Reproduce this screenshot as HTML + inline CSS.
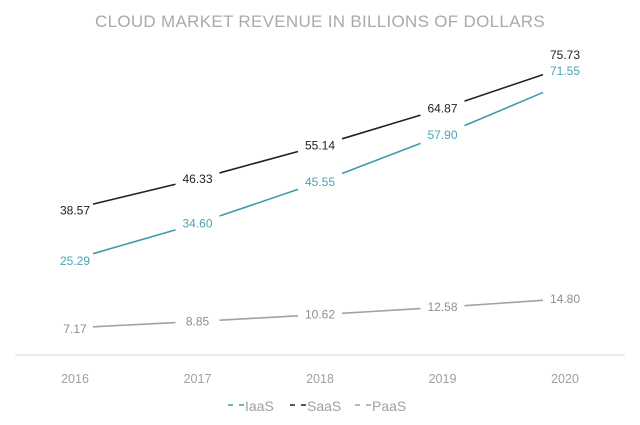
<!DOCTYPE html>
<html><head><meta charset="utf-8"><style>
html,body{margin:0;padding:0;background:#fff;width:640px;height:425px;overflow:hidden}
text{font-family:"Liberation Sans",sans-serif}
</style></head><body>
<svg id="chart" width="640" height="425" viewBox="0 0 640 425" xmlns="http://www.w3.org/2000/svg">
<text x="320" y="27" text-anchor="middle" font-size="17" fill="#aaa" letter-spacing="0.3">CLOUD MARKET REVENUE IN BILLIONS OF DOLLARS</text>
<line x1="15" y1="355" x2="625" y2="355" stroke="#e6e6e6" stroke-width="1.5"/>
<g id="xaxis"></g>
<g id="series"></g>
<g id="legend"></g>
</svg>
<script>
const years = ["2016","2017","2018","2019","2020"];
const saas = [38.57, 46.33, 55.14, 64.87, 75.73];
const iaas = [25.29, 34.60, 45.55, 57.90, 71.55];
const paas = [7.17, 8.85, 10.62, 12.58, 14.80];
const seriesNames = ["IaaS","SaaS","PaaS"];
const NS = "http://www.w3.org/2000/svg";
function xPos(i){ return 75 + i * 122.5; }
function yPos(v){ return 355 - v * 3.8; }
const xaxis = document.getElementById('xaxis');
years.forEach((y,i)=>{
  const t=document.createElementNS(NS,'text');
  
  
  t.setAttribute('x',xPos(i)); t.setAttribute('y',383);
  t.setAttribute('text-anchor','middle'); t.setAttribute('font-size','12.5'); t.setAttribute('fill','#a0a0a0');
  t.textContent=y; xaxis.appendChild(t);
});
const defs=[{name:'saas',data:saas,line:'#222',txt:'#222'},{name:'iaas',data:iaas,line:'#3f9cac',txt:'#4aa3b5'},{name:'paas',data:paas,line:'#a79dab',txt:'#8e8e8e'}];
const sg=document.getElementById('series');
defs.forEach(d=>{
  const pts=d.data.map((v,i)=>[xPos(i),yPos(v)]);
  for(let i=0;i<pts.length-1;i++){
    const [x1,y1]=pts[i],[x2,y2]=pts[i+1];
    const l=document.createElementNS(NS,'line');
    
    
    const f1=(i==0?18:22)/122.5, f2=22/122.5;
    l.setAttribute('x1',x1+(x2-x1)*f1); l.setAttribute('y1',y1+(y2-y1)*f1);
    l.setAttribute('x2',x2-(x2-x1)*f2); l.setAttribute('y2',y2-(y2-y1)*f2);
    l.setAttribute('stroke',d.line); l.setAttribute('stroke-width','1.6');
    sg.appendChild(l);
  }
  d.data.forEach((v,i)=>{
    const t=document.createElementNS(NS,'text');
    
    
    const last=i==d.data.length-1;
    let yy=yPos(v)+(i==0?(d.name=='paas'?5:6):(last&&d.name!='paas'?-8:4));
    t.setAttribute('x',xPos(i)); t.setAttribute('y',yy);
    t.setAttribute('text-anchor','middle'); t.setAttribute('font-size','12');
    t.setAttribute('fill',d.txt);
    t.textContent=v.toFixed(2); sg.appendChild(t);
  });
});
const lg=document.getElementById('legend');
const lc=[{c:'#3f9cac',x:228},{c:'#222',x:290},{c:'#a79dab',x:355}];
seriesNames.forEach((n,i)=>{
  const g=document.createElementNS(NS,'g');
  
  
  const l=document.createElementNS(NS,'line');
  l.setAttribute('x1',lc[i].x); l.setAttribute('x2',lc[i].x+17);
  l.setAttribute('y1',405); l.setAttribute('y2',405);
  l.setAttribute('stroke',lc[i].c); l.setAttribute('stroke-width','1.5');
  l.setAttribute('stroke-dasharray','5,6');
  g.appendChild(l);
  const t=document.createElementNS(NS,'text');
  t.setAttribute('x',lc[i].x+17); t.setAttribute('y',411);
  t.setAttribute('font-size','14'); t.setAttribute('fill','#a0a0a0');
  t.textContent=n; g.appendChild(t);
  lg.appendChild(g);
});
</script>
</body></html>
